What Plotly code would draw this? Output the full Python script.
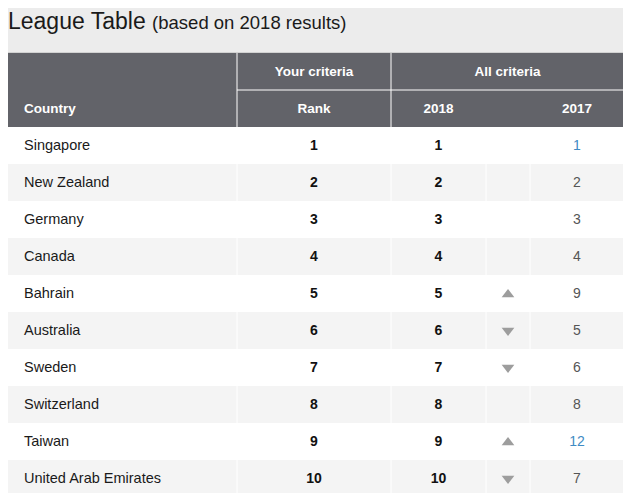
import plotly.graph_objects as go

# ─────────────────────────────────────────────
# DATOS
# ─────────────────────────────────────────────
countries = [
    "Singapore", "New Zealand", "Germany", "Canada", "Bahrain",
    "Australia", "Sweden", "Switzerland", "Taiwan", "United Arab Emirates",
]
your_rank = [1, 2, 3, 4, 5, 6, 7, 8, 9, 10]
rank_2018 = [1, 2, 3, 4, 5, 6, 7, 8, 9, 10]
rank_2017 = [1, 2, 3, 4, 9, 5, 6, 8, 12, 7]

group_headers = ["Your criteria", "All criteria"]
col_headers = ["Country", "Rank", "2018", "2017"]

# ─────────────────────────────────────────────
# ESTILO / GEOMETRÍA (px de la figura; la página añade 8px de margen)
# ─────────────────────────────────────────────
W, H = 623, 485
BG = "#ececec"
HEAD = "#626369"
ALT = "#f4f4f4"
FONT = "Liberation Sans, Arial, sans-serif"

COL_EDGES = [-2, 229, 383, 478, 522, 616]   # Country | Rank | 2018 | flecha | 2017
HEAD_TOP = 45
HEAD_H = 37
ROW_H = 37
BODY_TOP = HEAD_TOP + 2 * HEAD_H
PAD_LEFT = 18
TEXT_DY = 1   # el texto del original queda 1px por debajo del centro

n = len(countries)


def mid(a, b):
    return (a + b) / 2


col_mid = [mid(COL_EDGES[i], COL_EDGES[i + 1]) for i in range(5)]
row_mid = [BODY_TOP + ROW_H * (i + 0.5) for i in range(n)]
row_txt = [y + TEXT_DY for y in row_mid]
head1_y = HEAD_TOP + HEAD_H / 2 + TEXT_DY
head2_y = HEAD_TOP + HEAD_H * 1.5 + TEXT_DY

# flechas según cambio de posición
up_idx = [i for i in range(n) if rank_2018[i] < rank_2017[i]]
down_idx = [i for i in range(n) if rank_2018[i] > rank_2017[i]]

# en el original el 1 y el 12 de 2017 salen en azul
col_2017 = ["#3f8bc4" if v in (1, 12) else "#555555" for v in rank_2017]

# celdas: 2 filas de cabecera + filas alternas
y_edges = [HEAD_TOP, HEAD_TOP + HEAD_H, BODY_TOP] + [BODY_TOP + ROW_H * (i + 1) for i in range(n)]
z = [[2] * 5, [2] * 5] + [[i % 2] * 5 for i in range(n)]

fig = go.Figure()

fig.add_trace(go.Heatmap(
    x=COL_EDGES,
    y=y_edges,
    z=z,
    zmin=0, zmax=2,
    colorscale=[[0, "white"], [0.5, ALT], [1, HEAD]],
    showscale=False,
    hoverinfo="skip",
))

# cabecera
fig.add_trace(go.Scatter(
    x=[mid(COL_EDGES[1], COL_EDGES[2]), mid(COL_EDGES[2], COL_EDGES[5])],
    y=[head1_y] * 2,
    text=group_headers,
    mode="text",
    textfont=dict(family=FONT, size=13.5, color="white", weight="bold"),
    hoverinfo="skip",
))
fig.add_trace(go.Scatter(
    x=[COL_EDGES[0] + PAD_LEFT],
    y=[head2_y],
    text=col_headers[:1],
    mode="text",
    textposition="middle right",
    textfont=dict(family=FONT, size=13.5, color="white", weight="bold"),
    hoverinfo="skip",
))
fig.add_trace(go.Scatter(
    x=[col_mid[1], col_mid[2], col_mid[4]],
    y=[head2_y] * 3,
    text=col_headers[1:],
    mode="text",
    textfont=dict(family=FONT, size=13.5, color="white", weight="bold"),
    hoverinfo="skip",
))

# países
fig.add_trace(go.Scatter(
    x=[COL_EDGES[0] + PAD_LEFT] * n,
    y=row_txt,
    text=countries,
    mode="text",
    textposition="middle right",
    textfont=dict(family=FONT, size=14.5, color="#1a1a1a"),
    hovertemplate="%{text}<extra></extra>",
))

# rangos
fig.add_trace(go.Scatter(
    x=[col_mid[1]] * n, y=row_txt, text=[str(v) for v in your_rank],
    mode="text",
    textfont=dict(family=FONT, size=14, color="#111111", weight="bold"),
    hoverinfo="skip",
))
fig.add_trace(go.Scatter(
    x=[col_mid[2]] * n, y=row_txt, text=[str(v) for v in rank_2018],
    mode="text",
    textfont=dict(family=FONT, size=14, color="#111111", weight="bold"),
    hoverinfo="skip",
))
fig.add_trace(go.Scatter(
    x=[col_mid[4]] * n, y=row_txt, text=[str(v) for v in rank_2017],
    mode="text",
    textfont=dict(family=FONT, size=14, color=col_2017),
    hoverinfo="skip",
))

# flechas
fig.add_trace(go.Scatter(
    x=[col_mid[3]] * len(up_idx), y=[row_txt[i] for i in up_idx],
    mode="markers",
    marker=dict(symbol="triangle-up", size=11, color="#9d9d9d", line=dict(width=0)),
    hoverinfo="skip",
))
fig.add_trace(go.Scatter(
    x=[col_mid[3]] * len(down_idx), y=[row_mid[i] for i in down_idx],
    mode="markers",
    marker=dict(symbol="triangle-down", size=11, color="#9d9d9d", line=dict(width=0)),
    hoverinfo="skip",
))

# líneas blancas de separación
shapes = []
for xe in COL_EDGES[1:5]:
    shapes.append(dict(type="line", x0=xe, x1=xe, y0=BODY_TOP, y1=H + 5,
                       line=dict(color="white", width=1)))
for xe in COL_EDGES[1:3]:
    shapes.append(dict(type="line", x0=xe, x1=xe, y0=HEAD_TOP, y1=BODY_TOP,
                       line=dict(color="white", width=1)))
shapes.append(dict(type="line", x0=COL_EDGES[1], x1=COL_EDGES[5],
                   y0=HEAD_TOP + HEAD_H, y1=HEAD_TOP + HEAD_H,
                   line=dict(color="white", width=1)))
# borde exterior
shapes.append(dict(type="rect", x0=COL_EDGES[0], x1=COL_EDGES[5] + 0.5,
                   y0=HEAD_TOP - 0.5, y1=H + 5,
                   line=dict(color="#d2d2d2", width=1)))

fig.update_layout(
    title=dict(
        text="League Table <span style='font-size:18.5px'>(based on 2018 results)</span>",
        font=dict(family=FONT, size=23, color="#1a1a1a"),
        x=0, xanchor="left",
        y=1 - 13 / H, yanchor="middle",
    ),
    shapes=shapes,
    showlegend=False,
    paper_bgcolor=BG,
    plot_bgcolor=BG,
    margin=dict(l=0, r=0, t=0, b=0),
    width=W,
    height=H,
    xaxis=dict(range=[0, W], visible=False, fixedrange=True),
    yaxis=dict(range=[H, 0], visible=False, fixedrange=True),
)

fig.write_html("out.html")
